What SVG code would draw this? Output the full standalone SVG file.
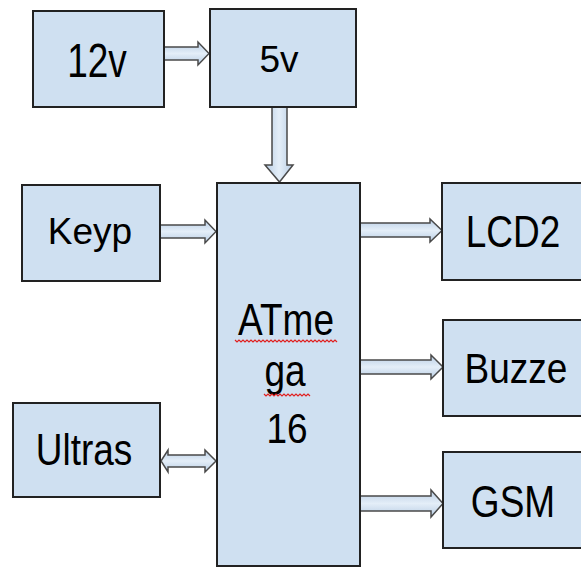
<svg xmlns="http://www.w3.org/2000/svg" width="581" height="568" viewBox="0 0 581 568">
<defs>
<linearGradient id="ah" x1="0" y1="0" x2="0" y2="1">
<stop offset="0" stop-color="#b8cde4"/><stop offset="0.5" stop-color="#e4eef8"/><stop offset="1" stop-color="#b8cde4"/>
</linearGradient>
<linearGradient id="av" x1="0" y1="0" x2="1" y2="0">
<stop offset="0" stop-color="#b8cde4"/><stop offset="0.5" stop-color="#e4eef8"/><stop offset="1" stop-color="#b8cde4"/>
</linearGradient>
</defs>
<style>
.box{fill:#cfe0f1;stroke:#222;stroke-width:2}
.lbl{font-family:"Liberation Sans",Arial,sans-serif;font-size:37px;fill:#000;text-anchor:middle}
.arr{stroke:#4a4a4a;stroke-width:1.5;stroke-linejoin:miter}
.sq{fill:none;stroke:#e02020;stroke-width:1.2}
</style>
<rect width="581" height="568" fill="#fff"/>
<g id="connectors">
<polygon class="arr" fill="url(#ah)" points="164,47 198,47 198,42 209,53.5 198,65 198,60 164,60"/>
<polygon class="arr" fill="url(#av)" points="272,107 287,107 287,165 293,165 279.5,182 265,165 272,165"/>
<polygon class="arr" fill="url(#ah)" points="160,225 205,225 205,220 216,231.5 205,243 205,238 160,238"/>
<polygon class="arr" fill="url(#ah)" points="360,223 430,223 430,219 442,230.5 430,242 430,237 360,237"/>
<polygon class="arr" fill="url(#ah)" points="360,360 431,360 431,355 443,367 431,379 431,374 360,374"/>
<polygon class="arr" fill="url(#ah)" points="360,496 431,496 431,490 443,503.5 431,517 431,511 360,511"/>
<polygon class="arr" fill="url(#ah)" points="161,461 168,450 168,455 205,455 205,450 216,461 205,472 205,467 168,467 168,472"/>
</g>
<g id="n12v">
<rect class="box" x="33" y="11" width="131" height="96"/>
<text class="lbl" transform="translate(97,77) scale(1,1.3)">12v</text>
</g>
<g id="n5v">
<rect class="box" x="210" y="9" width="146" height="98"/>
<text class="lbl" transform="translate(279,72) scale(1,1.02)">5v</text>
</g>
<g id="keyp">
<rect class="box" x="22" y="185" width="138" height="96"/>
<text class="lbl" transform="translate(90,244) scale(1,1.02)">Keyp</text>
</g>
<g id="atmega">
<rect class="box" x="217" y="183" width="143" height="383"/>
<text class="lbl" transform="translate(286,335) scale(1,1.18)">ATme</text>
<text class="lbl" transform="translate(285,386) scale(1,1.18)">ga</text>
<text class="lbl" transform="translate(287,443) scale(1,1.15)">16</text>
<path class="sq" d="M235,340 l2,2 l2,-2 l2,2 l2,-2 l2,2 l2,-2 l2,2 l2,-2 l2,2 l2,-2 l2,2 l2,-2 l2,2 l2,-2 l2,2 l2,-2 l2,2 l2,-2 l2,2 l2,-2 l2,2 l2,-2 l2,2 l2,-2 l2,2 l2,-2 l2,2 l2,-2 l2,2 l2,-2 l2,2 l2,-2 l2,2 l2,-2 l2,2 l2,-2 l2,2 l2,-2 l2,2 l2,-2 l2,2 l2,-2 l2,2 l2,-2 l2,2 l2,-2 l2,2 l2,-2 l2,2 l2,-2 l2,2"/>
<path class="sq" d="M264,394 l2,2 l2,-2 l2,2 l2,-2 l2,2 l2,-2 l2,2 l2,-2 l2,2 l2,-2 l2,2 l2,-2 l2,2 l2,-2 l2,2 l2,-2 l2,2 l2,-2 l2,2 l2,-2 l2,2 l2,-2 l2,2"/>
</g>
<g id="lcd2">
<rect class="box" x="442" y="183" width="145" height="97"/>
<text class="lbl" transform="translate(513,247) scale(1,1.22)">LCD2</text>
</g>
<g id="buzze">
<rect class="box" x="443" y="320" width="145" height="96"/>
<text class="lbl" transform="translate(516,383) scale(1,1.14)">Buzze</text>
</g>
<g id="ultras">
<rect class="box" x="13" y="403" width="147" height="94"/>
<text class="lbl" transform="translate(84,465) scale(1,1.22)">Ultras</text>
</g>
<g id="gsm">
<rect class="box" x="443" y="452" width="145" height="96"/>
<text class="lbl" transform="translate(513,517) scale(1,1.22)">GSM</text>
</g>
</svg>
